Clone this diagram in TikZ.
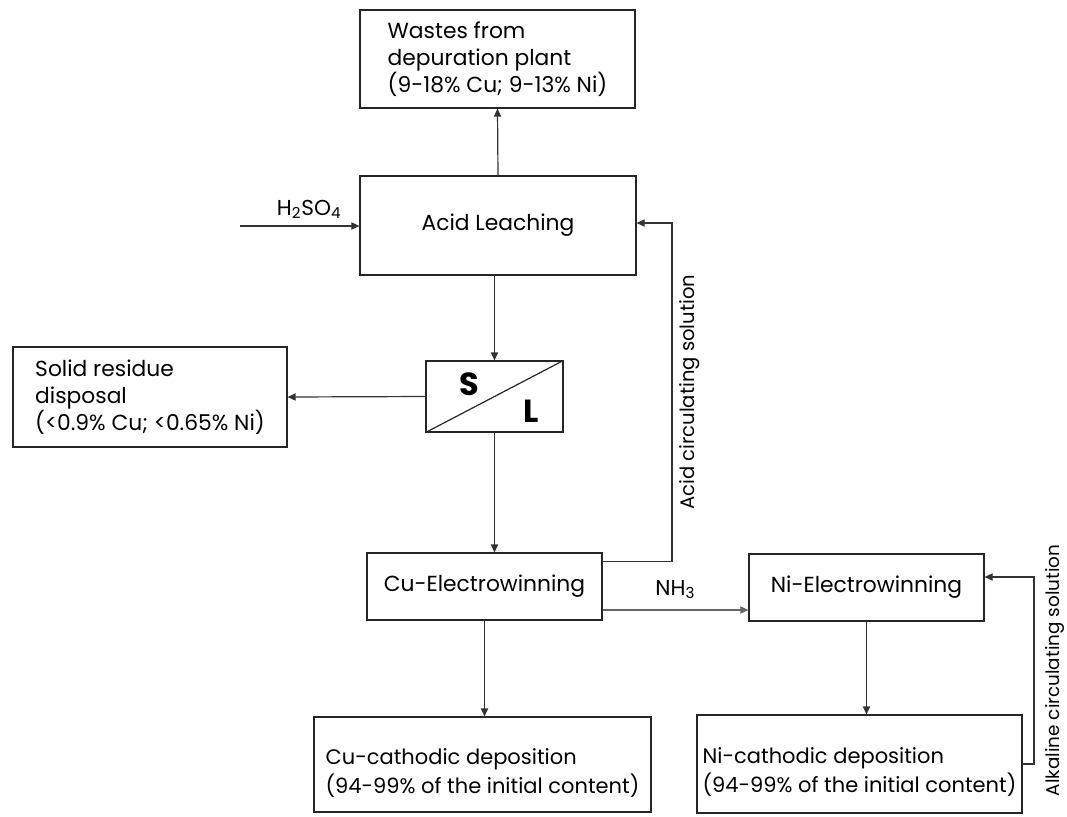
\documentclass[tikz,border=0pt]{standalone}
\usepackage{fontspec}
\setmainfont{Poppins}
\usetikzlibrary{arrows.meta}
\newcommand{\cathstrut}{\rule{0pt}{16pt}}
\tikzset{
  procbox/.style={draw=black!85, line width=0.6pt, align=left, inner sep=0pt,
    font=\fontsize{10.9}{13.5}\selectfont},
  procarrow/.style={-{Triangle[length=4pt,width=3.6pt]}, line width=0.6pt, draw=black!80},
  proclabel/.style={font=\fontsize{10.8}{12}\selectfont},
  looplabel/.style={font=\fontsize{9.8}{12}\selectfont, rotate=90, anchor=north, inner sep=3.3pt},
  phaselabel/.style={font=\fontsize{16}{18}\selectfont\bfseries, inner sep=0pt},
  cathbox/.style={procbox, font=\fontsize{10.5}{14.5}\selectfont},
}

\begin{document}
\begin{tikzpicture}[x=0.5pt, y=-0.5pt]
  \useasboundingbox (0,0) rectangle (1067,816);
  % boxes
  \node[procbox, minimum width=137.5pt, minimum height=49pt] (wastes) at (497.5,59) {Wastes from\\depuration plant\\(9-18\% Cu; 9-13\% Ni)};
  \node[procbox, minimum width=138pt, minimum height=49.5pt] (acid) at (498,225.5) {Acid Leaching};
  \node[procbox, minimum width=68.5pt, minimum height=35.5pt] (sl) at (494.5,396.5) {};
  \node[procbox, minimum width=137pt, minimum height=50pt] (residue) at (150,397) {Solid residue\\disposal\\(<0.9\% Cu; <0.65\% Ni)};
  \node[procbox, minimum width=117.5pt, minimum height=33.5pt] (cuew) at (484.5,586.5) {Cu-Electrowinning};
  \node[procbox, minimum width=117.5pt, minimum height=33.5pt] (niew) at (866.5,587.5) {Ni-Electrowinning};
  \node[cathbox, minimum width=168.5pt, minimum height=47.5pt] (cucath) at (482.5,764.5) {\cathstrut Cu-cathodic deposition\\(94-99\% of the initial content)};
  \node[cathbox, minimum width=162.5pt, minimum height=49pt] (nicath) at (859.5,764) {\cathstrut Ni-cathodic deposition\\(94-99\% of the initial content)};
  % solid/liquid separator
  \draw[line width=0.6pt, black!85] (sl.south west) -- (sl.north east);
  \node[phaselabel] (solid) at (469,384) {S};
  \node[phaselabel] (liquid) at (531,411) {L};
  \coordinate (acidin) at (240,226);
  \coordinate (acidturn) at (672,223);
  \coordinate (alkturn) at (1034,577);
  % flows
  \draw[procarrow] (acidin) -- node[proclabel, pos=0.58, above] (h2so4) {H\textsubscript{2}SO\textsubscript{4}} (acidin -| acid.west);
  \draw[procarrow] (acid.north) -- (wastes.south);
  \draw[procarrow] (sl.north |- acid.south) -- (sl.north);
  \draw[procarrow] (sl.west) -- (residue.east);
  \draw[procarrow] (sl.south) -- (sl.south |- cuew.north);
  \draw[procarrow] (cuew.south) -- (cuew.south |- cucath.north);
  \draw[procarrow] (niew.south) -- (niew.south |- nicath.north);
  \draw[procarrow] ([yshift=-4.5pt]cuew.north east) -| node[looplabel, pos=0.75] (acidsol) {Acid circulating solution} (acidturn) -- (acidturn -| acid.east);
  \draw[procarrow, draw=black!60] ([yshift=-11.75pt]cuew.east) -- node[proclabel, above=2pt] (nh3) {NH\textsubscript{3}} ([yshift=-11.75pt]cuew.east -| niew.west);
  \draw[procarrow] (nicath.east) -| node[looplabel, pos=0.75, font=\fontsize{9.2}{12}\selectfont, inner ysep=5.5pt] (alksol) {Alkaline circulating solution} (alkturn) -- (alkturn -| niew.east);
\end{tikzpicture}
\end{document}
